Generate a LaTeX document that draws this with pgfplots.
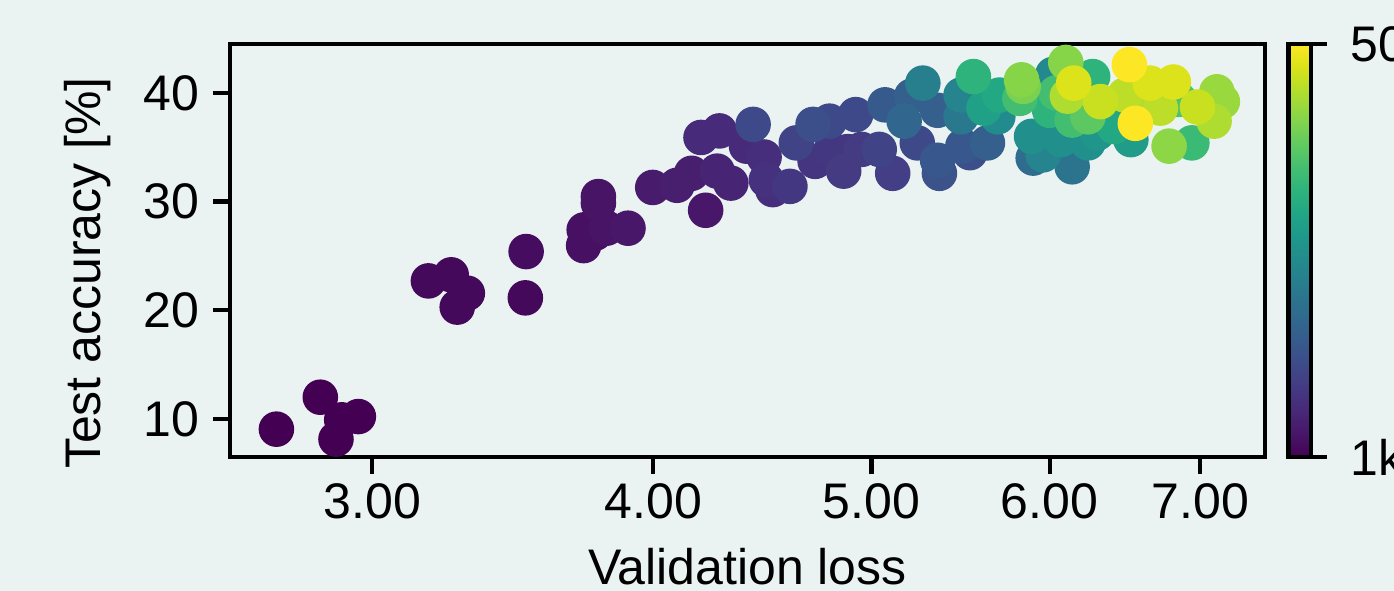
\documentclass[border=0pt]{standalone}
\usepackage{pgfplots}
\pgfplotsset{compat=1.18}
\usepackage{fontspec}
\setmainfont{Liberation Sans}
\definecolor{bg}{RGB}{234,243,241}
\pgfplotstableread{
x y c
2.720 9.06 0.00
2.845 12.0 0.00
2.908 9.92 0.00
2.958 10.22 0.00
2.891 8.14 0.00
3.178 22.7 0.02
3.253 23.26 0.02
3.307 21.57 0.02
3.273 20.29 0.02
3.509 21.14 0.02
3.512 25.4 0.03
3.727 27.4 0.04
3.725 25.95 0.04
3.770 27.1 0.04
3.782 30.46 0.05
3.782 29.85 0.05
3.814 27.55 0.05
3.898 27.55 0.06
4.220 29.2 0.06
3.998 31.3 0.07
4.098 31.5 0.08
4.160 32.6 0.08
4.270 32.8 0.10
4.330 31.7 0.10
4.200 35.9 0.12
4.280 36.5 0.12
4.400 35.1 0.12
4.480 34.1 0.13
4.520 31.1 0.13
4.490 32.0 0.14
4.720 33.7 0.15
4.880 34.6 0.15
4.600 31.4 0.16
4.800 34.8 0.16
4.860 32.8 0.17
4.950 34.8 0.17
5.110 32.6 0.18
4.630 35.4 0.20
5.040 34.8 0.20
4.430 37.1 0.22
4.790 37.4 0.22
4.920 38.0 0.22
5.240 35.4 0.22
4.710 37.1 0.24
5.530 34.5 0.24
5.360 32.6 0.25
5.350 33.8 0.27
5.490 35.1 0.27
5.070 38.9 0.28
5.210 39.7 0.30
5.350 38.4 0.30
5.630 35.4 0.30
5.170 37.4 0.33
5.900 34.0 0.35
6.140 33.2 0.38
5.480 37.8 0.40
5.270 40.9 0.43
5.480 39.8 0.45
5.960 34.3 0.45
6.020 41.7 0.47
5.690 37.8 0.48
5.890 36.0 0.50
6.070 35.7 0.50
6.240 35.4 0.50
6.300 36.3 0.52
6.520 35.7 0.55
5.610 38.6 0.57
5.700 39.8 0.60
6.410 36.9 0.60
5.550 41.5 0.65
6.270 41.5 0.65
6.000 38.4 0.65
6.020 39.2 0.65
6.940 35.4 0.68
5.820 39.5 0.70
6.040 40.0 0.70
6.140 37.5 0.70
6.850 39.4 0.72
6.240 37.8 0.75
5.840 40.6 0.80
5.830 41.2 0.82
6.100 42.8 0.82
6.780 35.1 0.83
7.120 40.1 0.85
7.160 39.2 0.85
6.110 39.7 0.88
6.640 38.7 0.88
7.100 37.4 0.88
6.480 39.8 0.90
6.720 38.6 0.90
6.320 39.2 0.92
6.980 38.7 0.92
6.150 40.9 0.95
6.650 40.9 0.95
6.810 41.0 0.95
6.510 42.6 1.00
6.550 37.2 1.00
}\datatable
\begin{document}
\fontsize{9pt}{10.8pt}\selectfont
\begin{tikzpicture}
\fill[bg] (-41.4pt,-24.12pt) rectangle (209.52pt,82.26pt);
\begin{axis}[
  at={(0pt,0pt)}, anchor=south west,
  scale only axis, width=186.3pt, height=74.34pt,
  xmode=log, xmin=2.594, xmax=7.48, ymin=6.5, ymax=44.5,
  xtick={3,4,5,6,7}, xticklabels={3.00,4.00,5.00,6.00,7.00},
  xminorticks=false, yminorticks=false,
  ytick={10,20,30,40},
  /pgf/number format/assume math mode=true,
  tick pos=left, tick align=outside, major tick length=3.06pt,
  axis line style={line width=0.75pt, black},
  every tick/.style={black, line width=0.75pt},
  axis background/.style={fill=bg},
  xlabel={Validation loss}, ylabel={Test accuracy [\%]},
  xlabel style={at={(axis description cs:0.5,-0.3099)}, anchor=base, inner sep=0pt},
  ylabel style={at={(axis description cs:-0.1256,0.4455)}, anchor=base, inner sep=0pt},
  xticklabel style={inner sep=0pt, yshift=-1.44pt},
  yticklabel style={inner sep=0pt, xshift=-2.34pt},
  colorbar,
  colormap name=viridis,
  point meta min=0, point meta max=1,
  colorbar style={
    at={(parent axis.south east)}, anchor=south west, xshift=-4.3pt,
    scale only axis, width=4.1pt, height=74.34pt,
    ytick={0,1}, yticklabels={1k,50k},
    ytick pos=right,
    tick align=outside, major tick length=2.8pt,
    axis line style={line width=0.75pt, black},
    every tick/.style={black, line width=0.75pt},
    yticklabel style={inner sep=0pt, anchor=west, xshift=4pt},
  },
]
\addplot[scatter, only marks, mark=*, mark size=3.0pt, scatter src=explicit,
  scatter/use mapped color={draw=mapped color, fill=mapped color}]
  table[x=x, y=y, meta=c] {\datatable};
\end{axis}
\pgfresetboundingbox
\path[use as bounding box] (-41.4pt,-24.12pt) rectangle (209.52pt,82.26pt);
\end{tikzpicture}
\end{document}
